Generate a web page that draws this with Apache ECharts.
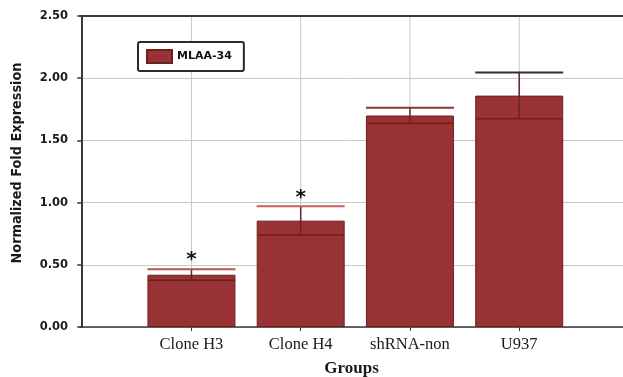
<!DOCTYPE html>
<html>
<head>
<meta charset="utf-8">
<script src="https://cdn.jsdelivr.net/npm/echarts@6/dist/echarts.min.js"></script>
<style>html,body{margin:0;padding:0;background:#fff}#c{width:623px;height:377px}</style>
</head>
<body>
<div id="c"></div>
<script>
var categories = ['Clone H3', 'Clone H4', 'shRNA-non', 'U937'];
var values = [0.42, 0.855, 1.70, 1.86];
var errors = [0.045, 0.115, 0.063, 0.185];
var significance = ['*', '*', '', ''];
var capColors = ['#b85454', '#c06262', '#8a3434', '#3e2c2c'];
var yTicks = [0, 0.5, 1, 1.5, 2, 2.5];
var seriesName = 'MLAA-34';

var positions = categories.map(function (c, i) { return i + 1; });
var barData = values.map(function (v, i) { return [positions[i], v]; });
var errData = values.map(function (v, i) { return [positions[i], v, errors[i], i]; });

var chart = echarts.init(document.getElementById('c'), null, { renderer: 'canvas' });
var BAR_W = 88;

chart.setOption({
  animation: false,
  backgroundColor: '#fff',
  grid: { left: 80, right: 0, top: 16, bottom: 50, outerBoundsMode: 'none', containLabel: false },
  legend: {
    left: 138, top: 42,
    data: [seriesName],
    icon: 'rect',
    itemWidth: 25, itemHeight: 13, itemGap: 5,
    padding: [7, 12, 7, 8],
    borderColor: '#2a2a2a', borderWidth: 2, borderRadius: 2,
    backgroundColor: '#fff',
    textStyle: { fontFamily: 'DejaVu Sans', fontWeight: 'bold', fontSize: 11, color: '#111' }
  },
  xAxis: [{
    type: 'value', min: -0.02, max: 4.95,
    axisLine: { show: true, lineStyle: { color: '#3a3a3a', width: 1.5 } },
    axisTick: { show: true, length: 4, customValues: positions, lineStyle: { color: '#3a3a3a' } },
    axisLabel: {
      customValues: positions,
      formatter: function (v) { return categories[Math.round(v) - 1] || ''; },
      fontFamily: 'Liberation Serif', fontSize: 16.5, color: '#1a1a1a', margin: 9
    },
    splitLine: { show: false },
    name: 'Groups', nameLocation: 'middle', nameGap: 33,
    nameTextStyle: { fontFamily: 'Liberation Serif', fontWeight: 'bold', fontSize: 17, color: '#1a1a1a' }
  }, {
    type: 'value', position: 'top', min: -0.02, max: 4.95,
    axisLine: { show: true, lineStyle: { color: '#3a3a3a', width: 2 } },
    axisTick: { show: false }, axisLabel: { show: false }, splitLine: { show: false }
  }],
  yAxis: {
    type: 'value', min: 0, max: 2.5, interval: 0.5,
    axisLine: { show: true, lineStyle: { color: '#3a3a3a', width: 2 } },
    axisTick: { show: true, length: 5, lineStyle: { color: '#3a3a3a', width: 1.5 } },
    axisLabel: {
      formatter: function (v) { return v.toFixed(2); },
      fontFamily: 'DejaVu Sans', fontWeight: 'bold', fontSize: 11.5, color: '#1a1a1a', margin: 12
    },
    splitLine: { show: true, lineStyle: { color: '#c8c8c8', width: 1 } }
  },
  graphic: [{
    type: 'text', x: 17, y: 163, rotation: Math.PI / 2,
    style: {
      text: 'Normalized Fold Expression', fill: '#1a1a1a',
      font: 'bold 14.3px "DejaVu Sans Condensed", "DejaVu Sans"',
      align: 'center', verticalAlign: 'middle'
    }
  }],
  series: [{
    type: 'custom', data: positions, z: 0, silent: true,
    renderItem: function (params, api) {
      var p = api.value(0);
      var a = api.coord([p, yTicks[0]]);
      var b = api.coord([p, yTicks[yTicks.length - 1]]);
      return { type: 'line', shape: { x1: a[0], y1: a[1], x2: b[0], y2: b[1] },
        style: { stroke: '#c8c8c8', lineWidth: 1 } };
    }
  }, {
    name: seriesName, type: 'bar', data: barData, barWidth: BAR_W, z: 2,
    itemStyle: { color: '#993234', borderColor: '#6e1f20', borderWidth: 1 }
  }, {
    type: 'custom', data: errData, z: 5, silent: true,
    renderItem: function (params, api) {
      var x = api.value(0), v = api.value(1), e = api.value(2), idx = api.value(3);
      var top = api.coord([x, v + e]);
      var low = api.coord([x, v - e]);
      var half = BAR_W / 2;
      var children = [
        { type: 'line', shape: { x1: low[0] - half + 1, y1: low[1], x2: low[0] + half - 1, y2: low[1] },
          style: { stroke: '#701c1e', lineWidth: 1.5 } },
        { type: 'line', shape: { x1: top[0], y1: top[1], x2: low[0], y2: low[1] },
          style: { stroke: '#6a2426', lineWidth: 1.5 } },
        { type: 'line', shape: { x1: top[0] - half, y1: top[1], x2: top[0] + half, y2: top[1] },
          style: { stroke: capColors[idx], lineWidth: 2 } }
      ];
      if (significance[idx]) {
        children.push({ type: 'text', x: top[0], y: top[1] - 9,
          style: { text: significance[idx], fill: '#111', font: 'bold 20px "DejaVu Sans"', align: 'center', verticalAlign: 'middle' } });
      }
      return { type: 'group', children: children };
    }
  }]
});
</script>
</body>
</html>
